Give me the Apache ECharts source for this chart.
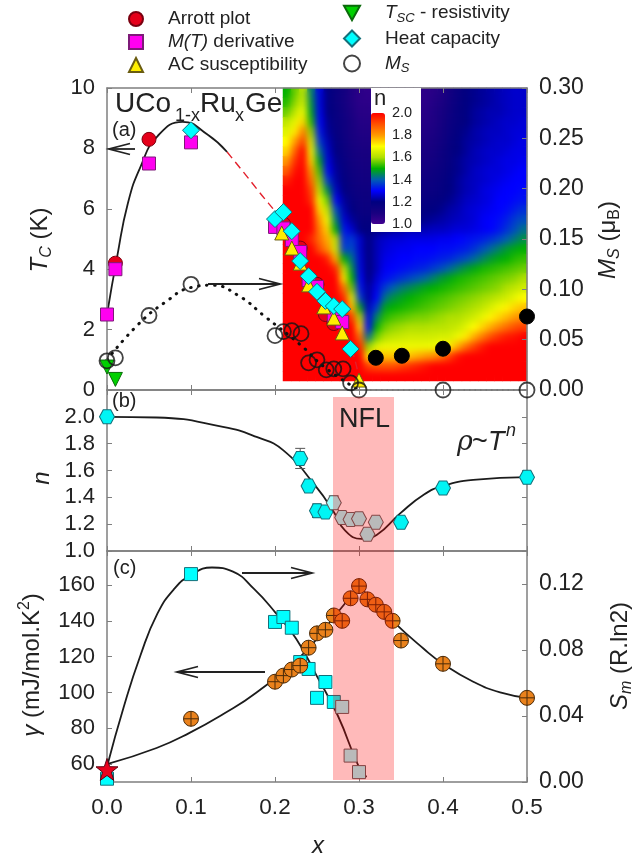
<!DOCTYPE html>
<html><head><meta charset="utf-8">
<style>html,body{margin:0;padding:0;background:#fff}#c{width:633px;height:860px;filter:blur(0.4px)}</style>
<script src="https://cdn.jsdelivr.net/npm/echarts@6/dist/echarts.min.js"></script>
</head><body><div id="c"></div>
<script>
// ---------- panel (a): ordering temperature, x vs T_C (K) ----------
const arrott=[[0.05,8.3],[0.01,4.2],[0.21,5.5],[0.23,4.7],[0.25,3.5],[0.26,2.5],[0.27,2.2]];
const mtDeriv=[[0,2.5],[0.01,4.0],[0.05,7.5],[0.1,8.2],[0.2,5.4],[0.21,5.35],[0.22,4.97],[0.23,4.57],[0.24,3.64],[0.25,3.41],[0.27,2.48],[0.28,2.25]];
const acSusc=[[0.208,5.2],[0.22,4.7],[0.23,4.2],[0.24,3.48],[0.258,2.75],[0.27,2.38],[0.28,1.89],[0.30,0.33]];
const tsc=[[0,0.76],[0.01,0.35]];
const heatCap=[[0.1,8.6],[0.2,5.66],[0.21,5.89],[0.22,5.26],[0.23,4.27],[0.24,3.77],[0.25,3.25],[0.26,2.95],[0.27,2.78],[0.28,2.68],[0.29,1.36]];
const msOpen=[[0,0.029],[0.01,0.032],[0.05,0.074],[0.1,0.105],[0.2,0.054],[0.21,0.058],[0.22,0.059],[0.231,0.056],[0.24,0.027],[0.25,0.03],[0.261,0.02],[0.27,0.021],[0.281,0.021],[0.29,0.007],[0.3,0],[0.4,0],[0.5,0]];
const msFilled=[[0.32,0.032],[0.351,0.034],[0.4,0.041],[0.5,0.073]];
const tcCurve=[[0,2.5],[0.012,4.4],[0.025,6.2],[0.04,7.4],[0.06,8.4],[0.09,8.88],[0.12,8.45],[0.143,7.88]];
const tcDashed=[[0.143,7.88],[0.18,6.6],[0.21,5.5],[0.25,3.5],[0.285,1.8],[0.30,0.4]];
const msCurve=[[0,0.03],[0.037,0.065],[0.069,0.087],[0.101,0.102],[0.125,0.104],[0.156,0.094],[0.188,0.073],[0.23,0.045],[0.26,0.022],[0.3,0]];
const msZero=[[0.3,0],[0.4,0],[0.5,0]];
// ---------- panel (a): exponent n map, one row per temperature (top to bottom) ----------
const heatN=[
[1.50,1.56,1.62,1.44,1.28,1.20,1.16,1.12,1.08,1.05,1.04,1.04,1.04,1.04,1.04,1.04,1.04,1.05,1.06,1.08,1.12,1.16,1.19,1.21,1.22,1.23,1.24,1.25,1.26,1.26],
[1.52,1.58,1.64,1.46,1.28,1.20,1.16,1.12,1.08,1.05,1.05,1.05,1.05,1.05,1.05,1.05,1.05,1.05,1.07,1.09,1.13,1.17,1.20,1.21,1.22,1.23,1.24,1.25,1.26,1.26],
[1.56,1.62,1.68,1.48,1.29,1.20,1.17,1.13,1.09,1.06,1.06,1.06,1.06,1.06,1.06,1.06,1.06,1.06,1.08,1.10,1.14,1.18,1.20,1.22,1.23,1.24,1.24,1.25,1.26,1.26],
[1.62,1.67,1.74,1.52,1.30,1.21,1.17,1.14,1.10,1.07,1.07,1.07,1.07,1.07,1.07,1.07,1.07,1.07,1.08,1.11,1.15,1.18,1.20,1.22,1.23,1.24,1.25,1.26,1.26,1.27],
[1.66,1.72,1.84,1.58,1.32,1.22,1.18,1.14,1.10,1.08,1.08,1.08,1.08,1.08,1.08,1.08,1.08,1.08,1.09,1.12,1.16,1.19,1.21,1.23,1.24,1.25,1.25,1.26,1.27,1.27],
[1.70,1.80,1.92,1.64,1.36,1.24,1.19,1.15,1.11,1.09,1.09,1.09,1.09,1.09,1.09,1.09,1.09,1.09,1.10,1.13,1.17,1.20,1.22,1.23,1.24,1.25,1.26,1.26,1.27,1.28],
[1.74,1.88,2,1.68,1.42,1.26,1.20,1.16,1.12,1.10,1.10,1.10,1.10,1.10,1.10,1.10,1.10,1.10,1.11,1.14,1.18,1.20,1.22,1.24,1.25,1.26,1.26,1.27,1.28,1.28],
[1.80,1.94,2,1.74,1.48,1.28,1.21,1.17,1.13,1.11,1.11,1.11,1.11,1.11,1.11,1.11,1.11,1.11,1.12,1.15,1.18,1.21,1.23,1.24,1.25,1.26,1.27,1.28,1.28,1.29],
[1.88,1.98,2,1.80,1.54,1.30,1.22,1.18,1.14,1.12,1.12,1.12,1.12,1.12,1.12,1.12,1.12,1.12,1.14,1.16,1.19,1.21,1.23,1.25,1.26,1.27,1.27,1.28,1.29,1.30],
[1.96,2,2,1.86,1.58,1.36,1.23,1.19,1.15,1.13,1.13,1.13,1.13,1.13,1.13,1.13,1.14,1.14,1.15,1.17,1.20,1.22,1.24,1.25,1.26,1.27,1.28,1.29,1.30,1.30],
[2,2,2,1.92,1.62,1.46,1.26,1.20,1.16,1.14,1.14,1.14,1.14,1.14,1.14,1.15,1.15,1.15,1.16,1.18,1.20,1.22,1.24,1.25,1.27,1.28,1.29,1.30,1.30,1.31],
[2,2,2,1.95,1.68,1.56,1.30,1.22,1.18,1.15,1.15,1.15,1.15,1.15,1.16,1.16,1.16,1.17,1.18,1.19,1.21,1.23,1.25,1.26,1.27,1.28,1.30,1.30,1.31,1.32],
[2,2,2,2,1.74,1.62,1.38,1.24,1.20,1.16,1.16,1.16,1.16,1.16,1.17,1.17,1.18,1.19,1.20,1.21,1.23,1.24,1.26,1.27,1.28,1.29,1.30,1.31,1.33,1.35],
[2,2,2,2,1.80,1.68,1.44,1.27,1.22,1.18,1.18,1.18,1.18,1.18,1.19,1.20,1.20,1.21,1.22,1.23,1.24,1.25,1.26,1.27,1.29,1.30,1.31,1.33,1.36,1.38],
[2,2,2,2,1.84,1.74,1.50,1.32,1.26,1.20,1.19,1.20,1.21,1.22,1.23,1.24,1.24,1.24,1.25,1.25,1.26,1.27,1.27,1.28,1.29,1.30,1.32,1.35,1.38,1.42],
[2,2,2,1.95,1.86,1.78,1.62,1.34,1.36,1.26,1.20,1.24,1.26,1.27,1.27,1.28,1.28,1.28,1.28,1.29,1.29,1.30,1.31,1.32,1.33,1.35,1.37,1.40,1.43,1.46],
[2,2,2,2,1.90,1.82,1.64,1.36,1.38,1.26,1.20,1.24,1.27,1.28,1.29,1.29,1.30,1.30,1.30,1.31,1.31,1.32,1.33,1.35,1.38,1.41,1.44,1.47,1.49,1.50],
[2,2,2,2,2,1.96,1.78,1.50,1.42,1.27,1.20,1.24,1.28,1.29,1.30,1.30,1.31,1.31,1.32,1.33,1.34,1.36,1.38,1.41,1.44,1.47,1.49,1.50,1.52,1.53],
[2,2,2,2,2,2,1.95,1.62,1.46,1.28,1.20,1.24,1.29,1.30,1.31,1.32,1.33,1.34,1.36,1.38,1.41,1.44,1.47,1.49,1.51,1.52,1.53,1.54,1.55,1.56],
[2,2,2,2,2,2,2,1.72,1.50,1.30,1.20,1.26,1.31,1.33,1.35,1.37,1.39,1.41,1.44,1.47,1.49,1.51,1.52,1.53,1.54,1.55,1.56,1.57,1.58,1.60],
[2,2,2,2,2,2,2,1.85,1.56,1.32,1.22,1.28,1.36,1.40,1.43,1.45,1.47,1.49,1.50,1.51,1.52,1.53,1.54,1.55,1.56,1.57,1.58,1.60,1.62,1.64],
[2,2,2,2,2,2,2,1.95,1.66,1.36,1.22,1.30,1.42,1.46,1.48,1.50,1.51,1.52,1.53,1.54,1.55,1.56,1.57,1.58,1.59,1.60,1.62,1.64,1.67,1.70],
[2,2,2,2,2,2,2,2,1.76,1.48,1.25,1.36,1.48,1.50,1.51,1.52,1.53,1.54,1.55,1.56,1.57,1.58,1.59,1.60,1.62,1.65,1.68,1.71,1.74,1.76],
[2,2,2,2,2,2,2,2,1.92,1.60,1.28,1.44,1.52,1.54,1.55,1.56,1.57,1.57,1.58,1.59,1.60,1.60,1.62,1.64,1.67,1.71,1.74,1.77,1.80,1.82],
[2,2,2,2,2,2,2,2,2,1.74,1.30,1.50,1.56,1.58,1.59,1.60,1.60,1.60,1.61,1.61,1.62,1.63,1.66,1.70,1.74,1.78,1.82,1.86,1.90,1.92],
[2,2,2,2,2,2,2,2,2,1.85,1.42,1.56,1.60,1.62,1.63,1.64,1.64,1.64,1.64,1.65,1.65,1.68,1.72,1.78,1.84,1.90,1.94,1.97,1.98,2],
[2,2,2,2,2,2,2,2,2,1.95,1.58,1.66,1.68,1.68,1.68,1.68,1.68,1.68,1.68,1.70,1.72,1.78,1.86,1.92,1.97,2,2,2,2,2],
[2,2,2,2,2,2,2,2,2,2,1.72,1.76,1.76,1.76,1.76,1.76,1.78,1.80,1.82,1.86,1.92,1.98,2,2,2,2,2,2,2,2],
[2,2,2,2,2,2,2,2,2,2,1.92,1.90,1.90,1.90,1.92,1.94,1.96,1.98,2,2,2,2,2,2,2,2,2,2,2,2],
[2,2,2,2,2,2,2,2,2,2,2,2,2,2,2,2,2,2,2,2,2,2,2,2,2,2,2,2,2,2]
];
const nColors=['#400090','#180080','#000080','#0000ff','#0060b0','#00b000','#b0e000','#ffff00','#ff9900','#ff5000','#ff0000'];
// ---------- panel (b): resistivity exponent ----------
const nPts=[[0,2.0],[0.23,1.69],[0.24,1.485],[0.25,1.30],[0.26,1.29],[0.35,1.215],[0.4,1.47],[0.5,1.55]];
const nPtsNFL=[[0.27,1.36],[0.28,1.25],[0.29,1.235],[0.30,1.24],[0.31,1.125],[0.32,1.215]];
const nErr=[[0.23,1.615,1.765],[0.25,1.25,1.35],[0.27,1.31,1.41]];
const nCurve=[[0,2.0],[0.059,1.995],[0.138,1.925],[0.178,1.85],[0.21,1.75],[0.25,1.47],[0.27,1.29],[0.283,1.155],[0.303,1.09],[0.321,1.12],[0.349,1.28],[0.377,1.42],[0.4,1.485],[0.436,1.53],[0.5,1.55]];
// ---------- panel (c): gamma and S_m ----------
const gamma=[[0.1,85.3],[0.2,106],[0.21,109.4],[0.22,112.8],[0.23,115],[0.24,125],[0.25,133],[0.26,135],[0.27,143],[0.28,140],[0.29,152.6],[0.30,159.4],[0.31,152],[0.32,149],[0.33,145],[0.34,140],[0.35,129],[0.4,116],[0.5,97]];
const gammaStar=[[0,57]];
const smPts=[[0,0.002],[0.1,0.126],[0.2,0.097],[0.21,0.100],[0.22,0.0935],[0.23,0.0727],[0.24,0.0685],[0.25,0.051],[0.26,0.0606],[0.27,0.0485]];
const smPtsNFL=[[0.28,0.0455],[0.29,0.016],[0.30,0.006]];
const gammaCurveL=[[0,60],[0.059,69],[0.0988,77.6],[0.1385,88],[0.178,100],[0.2335,121.6],[0.27,142],[0.30,159.6]];
const gammaCurveR=[[0.30,159.6],[0.34,140],[0.377,124.4],[0.40,116],[0.436,106],[0.468,100],[0.5,97]];
const smCurve=[[0,0.0093],[0.02,0.0456],[0.04,0.077],[0.06,0.102],[0.08,0.117],[0.1,0.1255],[0.125,0.130],[0.15,0.1275],[0.175,0.117],[0.2,0.103],[0.225,0.087],[0.25,0.064],[0.275,0.04],[0.3,0.009],[0.309,0.003]];
// ---------- tick labels ----------
const xTicks=[0,0.1,0.2,0.3,0.4,0.5];
const nTicks=[1.0,1.2,1.4,1.6,1.8,2.0];
const gammaTicks=[60,80,100,120,140,160];
const smTicks=[0,0.04,0.08,0.12];

const FONT='"Liberation Sans"', INK='#222', FRAME='#7f7f7f';
const HEX='path://M-10 0L-5 -8.66L5 -8.66L10 0L5 8.66L-5 8.66Z';
const STAR='path://M0 -10L2.35 -3.24L9.51 -3.09L3.8 1.24L5.88 8.09L0 4L-5.88 8.09L-3.8 1.24L-9.51 -3.09L-2.35 -3.24Z';
const CROSSED='path://M0 -10A10 10 0 1 1 0 10A10 10 0 1 1 0 -10ZM-10 0L10 0M0 -10L0 10';
const DOWN='path://M-10 -8L10 -8L0 10Z';

function xAxis(grid,pos,labels){return {type:'value',gridIndex:grid,min:0,max:0.5,interval:0.1,position:pos,z:5,
  axisLine:{show:true,onZero:false,lineStyle:{color:FRAME,width:1.5}},splitLine:{show:false},
  axisTick:{show:true,inside:true,length:5,lineStyle:{color:FRAME,width:1}},
  axisLabel:{show:labels,margin:14,fontSize:22.5,fontFamily:FONT,color:INK,hideOverlap:false,showMinLabel:true,showMaxLabel:true,formatter:v=>v.toFixed(1)}};}
function yAxis(grid,pos,o){const a={type:'value',gridIndex:grid,position:pos,min:o.min,max:o.max,z:5,
  axisLine:{show:true,onZero:false,lineStyle:{color:FRAME,width:1.5}},splitLine:{show:false},
  axisTick:{show:true,inside:true,length:5,lineStyle:{color:FRAME,width:1}},
  axisLabel:{show:!!o.labels,margin:12,fontSize:pos==='right'?23:22,fontFamily:FONT,color:INK,showMinLabel:true,showMaxLabel:true,hideOverlap:false,formatter:o.fmt}};
  if(o.interval)a.interval=o.interval;
  if(o.ticks){a.axisTick.customValues=o.ticks;a.axisLabel.customValues=o.ticks;}
  return a;}

function line(name,data,xi,yi,style,extra){return Object.assign({type:'line',name,data,xAxisIndex:xi,yAxisIndex:yi,symbol:'none',smooth:0.5,clip:false,z:3,silent:true,lineStyle:style,animation:false},extra||{});}
function pts(name,data,xi,yi,symbol,size,fill,border,z,extra){return Object.assign({type:'scatter',name,data,xAxisIndex:xi,yAxisIndex:yi,symbol,symbolSize:size,clip:false,z,
  itemStyle:{color:fill,borderColor:border,borderWidth:1,opacity:1}},extra||{});}
const BLACK={color:'#1c1c1c',width:1.8};
const DOTS={color:'#111',width:3,type:[0.5,7.5],cap:'round'};

const heatData=[];heatN.forEach((row,r)=>row.forEach((v,c)=>heatData.push([c,r,v])));

const series=[
 {type:'heatmap',name:'n map base',data:heatData,xAxisIndex:6,yAxisIndex:6,zlevel:-2,silent:true,progressive:0},
 {type:'heatmap',name:'n map',data:heatData,xAxisIndex:6,yAxisIndex:6,zlevel:-1,silent:true,progressive:0},
 line('TC curve',tcCurve,0,0,BLACK),
 line('TC dashed',tcDashed,0,0,{color:'#e2202c',width:1.4,type:[8,5]},{z:3}),
 line('MS curve',msCurve,0,1,DOTS),
 line('MS zero',msZero,0,1,{color:'#333',width:2,type:[1.5,4]},{smooth:false}),
 pts('Arrott plot',arrott,0,0,'circle',14,'#e5001a','#7a0010',6),
 pts('M(T) derivative',mtDeriv,0,0,'rect',13,'#ff00f0','#7d1a78',7),
 pts('AC susceptibility',acSusc,0,0,'triangle',14,'#ffee00','#6a5c10',8),
 pts('TSC - resistivity',tsc,0,0,DOWN,14,'#00d000','#0a6a0a',8),
 pts('Heat capacity',heatCap,0,0,'diamond',17,'#00ffff','#14707a',9),
 pts('MS',msOpen,0,1,'circle',15,'rgba(0,0,0,0)','#151515',10,{itemStyle:{color:'rgba(0,0,0,0)',borderColor:'#151515',borderWidth:1.8}}),
 pts('MS filled',msFilled,0,1,'circle',15,'#000','#000',10),
 line('n curve',nCurve,2,2,BLACK),
 {type:'custom',name:'n error',data:nErr,xAxisIndex:2,yAxisIndex:2,z:4,clip:false,silent:true,encode:{x:0,y:[1,2]},
  renderItem(p,api){const a=api.coord([api.value(0),api.value(1)]),b=api.coord([api.value(0),api.value(2)]);
   const s={stroke:'#555',lineWidth:1,fill:null};
   return {type:'group',children:[
    {type:'line',shape:{x1:a[0],y1:a[1],x2:b[0],y2:b[1]},style:s},
    {type:'line',shape:{x1:a[0]-5,y1:a[1],x2:a[0]+5,y2:a[1]},style:s},
    {type:'line',shape:{x1:b[0]-5,y1:b[1],x2:b[0]+5,y2:b[1]},style:s}]};}},
 pts('n',nPts,2,2,HEX,[15,14],'#00f5f5','#14707a',6),
 pts('n NFL',nPtsNFL,2,2,HEX,[15,14],'#a0ffff','#5a6060',6),
 line('Sm curve',smCurve,4,5,BLACK),
 line('gamma curve',gammaCurveL,4,4,BLACK),
 line('gamma curve 2',gammaCurveR,4,4,BLACK),
 pts('Sm',smPts,4,5,'rect',13,'#00ffff','#14707a',5),
 pts('Sm NFL',smPtsNFL,4,5,'rect',13,'#a0ffff','#5a5a5a',5),
 pts('gamma',gamma,4,4,CROSSED,15,'#ea821c','#4a2a08',6),
 pts('gamma star',gammaStar,4,4,STAR,22,'#e8001c','#5a0010',7)
];

const T=(x,y,text,size,o)=>Object.assign({type:'text',x,y,z:25,silent:true,rotation:(o&&o.rot)||0,
  style:Object.assign({text,fill:INK,font:`${(o&&o.it)?'italic ':''}${size}px ${FONT}`,textAlign:(o&&o.al)||'left',textVerticalAlign:'middle'},(o&&o.style)||{})});
function arrow(x1,y1,x2,y2){const d=x2>x1?-1:1;const st={stroke:'#222',lineWidth:1.8,fill:null};
 return [{type:'polyline',z:24,silent:true,shape:{points:[[x1,y1],[x2,y2]]},style:st},
  {type:'polyline',z:24,silent:true,shape:{points:[[x2+d*21,y2-5.5],[x2,y2],[x2+d*21,y2+5.5]]},style:st}];}
const richAxis={m:{font:`24px ${FONT}`,fill:INK,lineHeight:30},i:{font:`italic 24px ${FONT}`,fill:INK,lineHeight:30},
  sub:{font:`${16}px ${FONT}`,fill:INK,verticalAlign:'bottom',lineHeight:30},isub:{font:`italic 16px ${FONT}`,fill:INK,verticalAlign:'bottom',lineHeight:30},
  sup:{font:`16px ${FONT}`,fill:INK,verticalAlign:'top',lineHeight:30}};
const RT=(x,y,text)=>({type:'text',x,y,z:25,silent:true,rotation:Math.PI/2,style:{text,rich:richAxis,textAlign:'center',textVerticalAlign:'middle',fill:INK}});

const graphics=[
 {type:'rect',z:9,silent:true,shape:{x:371,y:88,width:50,height:144},style:{fill:'#fff'}},
 T(380,99,'n',22,{al:'center'}),
 {type:'rect',z:20,silent:true,shape:{x:333,y:397,width:61,height:383},style:{fill:'rgba(255,0,0,0.27)'}},
 T(115,104,'UCo',28),T(175,116,'1-x',18),T(200,104,'Ru',28),T(235,116,'x',18),T(245,104,'Ge',28),
 T(112,130,'(a)',20),T(112,401,'(b)',20),T(113,568,'(c)',20),
 T(339,420,'NFL',27),
 T(457,443,'ρ',27,{it:1,style:{font:'italic 27px "DejaVu Serif"'}}),T(472,443,'~',27),T(488,442,'T',27,{it:1}),T(506,431,'n',18,{it:1}),
 RT(40,240,'{i|T}{isub|C}{m| (K)}'),
 T(42,478,'n',24,{it:1,rot:Math.PI/2,al:'center'}),
 RT(32,665,'{i|γ}{m| (mJ/mol.K}{sup|2}{m|)}'),
 RT(608,240,'{i|M}{isub|S}{m| (μ}{sub|B}{m|)}'),
 RT(620,656,'{i|S}{isub|m}{m| (R.ln2)}'),
 T(318,846,'x',24,{it:1,al:'center'}),
 ...arrow(135,149,109,149),...arrow(208,284,280,284),
 ...arrow(242,573,312,573),...arrow(265,672,177,672)
];

const LR=(o)=>Object.assign({fontSize:19,fontFamily:FONT,color:INK,height:22,lineHeight:22},o||{});
const legendRich={t:LR(),i:LR({fontStyle:'italic'}),sub:{fontSize:13,fontFamily:FONT,fontStyle:'italic',color:INK,verticalAlign:'bottom',lineHeight:12,height:12}};
const legendFmt=n=>({'Arrott plot':'{t|Arrott plot}','M(T) derivative':'{i|M(T)}{t| derivative}','AC susceptibility':'{t|AC susceptibility}',
 'TSC - resistivity':'{i|T}{sub|SC}{t| - resistivity}','Heat capacity':'{t|Heat capacity}','MS':'{i|M}{sub|S}'})[n];

const option={
 animation:false,
 grid:[
  {left:107,top:88,width:420,height:302},
  {left:107,top:390,width:420,height:161},
  {left:107,top:551,width:420,height:231},
  {left:283,top:88,width:244,height:293,show:false},
  {left:371,top:113,width:14,height:111,show:false}
 ],
 xAxis:[xAxis(0,'bottom',false),xAxis(0,'top',false),xAxis(1,'bottom',false),xAxis(1,'top',false),xAxis(2,'bottom',true),xAxis(2,'top',false),
  {type:'category',gridIndex:3,show:false,data:heatN[0].map((_,i)=>i)},
  {type:'value',gridIndex:4,show:false,min:0,max:1}],
 yAxis:[
  yAxis(0,'left',{min:0,max:10,interval:2,labels:true}),
  yAxis(0,'right',{min:0,max:0.3,interval:0.05,labels:true,fmt:v=>v.toFixed(2)}),
  yAxis(1,'left',{min:1,max:2.2,ticks:nTicks,labels:true,fmt:v=>v.toFixed(1)}),
  yAxis(1,'right',{min:1,max:2.2,ticks:nTicks,labels:false}),
  yAxis(2,'left',{min:50,max:179,ticks:gammaTicks,labels:true}),
  yAxis(2,'right',{min:0,max:0.14,ticks:smTicks,labels:true,fmt:v=>v.toFixed(2)}),
  {type:'category',gridIndex:3,show:false,inverse:true,data:heatN.map((_,i)=>i)},
  {type:'value',gridIndex:4,position:'right',min:1,max:2,interval:0.2,z:12,splitLine:{show:false},axisLine:{show:false},axisTick:{show:false},
   axisLabel:{margin:7,fontSize:14.5,fontFamily:FONT,color:INK,formatter:v=>v.toFixed(1),showMinLabel:true,showMaxLabel:true}}
 ],
 visualMap:{type:'continuous',min:1,max:2,dimension:2,seriesIndex:[0,1],inRange:{color:nColors},calculable:false,show:true,showLabel:false,text:[],
  left:371,top:113,itemWidth:14,itemHeight:111,padding:0,z:10,hoverLink:false,realtime:false},
 legend:[
  {left:128,top:8,padding:0,orient:'vertical',itemWidth:14,itemHeight:14,itemGap:1,selectedMode:false,data:['Arrott plot','M(T) derivative','AC susceptibility'],formatter:legendFmt,textStyle:{rich:legendRich,padding:[0,0,0,20],color:INK}},
  {left:343,top:2,padding:0,orient:'vertical',itemWidth:16,itemHeight:16,itemGap:3,selectedMode:false,data:['TSC - resistivity','Heat capacity','MS'],formatter:legendFmt,textStyle:{rich:legendRich,padding:[0,0,0,20],color:INK}}
 ],
 series,
 graphic:{elements:graphics}
};
const chart=echarts.init(document.getElementById('c'));
chart.setOption(option);
function soften(){const l=document.querySelector('[data-zr-dom-id="zr_-1"]');
 if(l){l.style.filter='blur(3.5px)';l.style.clipPath='inset(88px 106px 479px 283px)';}}
soften();chart.on('finished',soften);
</script></body></html>
